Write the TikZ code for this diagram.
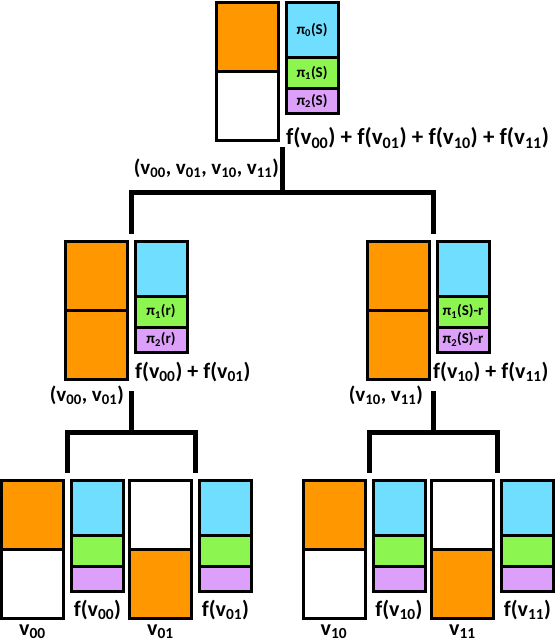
\documentclass[tikz,border=0pt]{standalone}
\usepackage{fontspec}
\setmainfont{Carlito}
\usepackage{tikz}
\usetikzlibrary{positioning}
\definecolor{hotorange}{RGB}{255,152,0}
\definecolor{piblue}{RGB}{112,222,255}
\definecolor{pigreen}{RGB}{140,245,80}
\definecolor{pipurple}{RGB}{220,160,250}

\begin{document}
\begin{tikzpicture}[x=1pt, y=-1pt,
        cell/.style={draw, line width=3pt, inner sep=0pt, outer sep=0pt, minimum width=62pt, minimum height=69pt},
        pirow/.style={draw, line width=3pt, inner sep=0pt, outer sep=0pt, minimum width=52pt, font=\bfseries\fontsize{15}{15}\selectfont},
        piA/.style={pirow, fill=piblue, minimum height=55pt},
        piB/.style={pirow, fill=pigreen, minimum height=31pt},
        piC/.style={pirow, fill=pipurple, minimum height=25pt},
        branch/.style={line width=5pt},
        lbl/.style={inner sep=0pt, font=\bfseries\fontsize{22}{22}\selectfont},
        tuple/.style={lbl, font=\bfseries\fontsize{21}{21}\selectfont}]
            \useasboundingbox (0,0) rectangle (555,643);
            % root
            \node[cell, fill=hotorange, anchor=north east] (rootHi) at (278,2.5) {};
            \node[cell, below=0pt of rootHi] (rootLo) {};
            \node[piA, anchor=north west] (rootA) at (286,2.5) {π\textsubscript{0}(S)};
            \node[piB, below=0pt of rootA] (rootB) {π\textsubscript{1}(S)};
            \node[piC, below=0pt of rootB] (rootC) {π\textsubscript{2}(S)};
            \node[lbl, font=\bfseries\fontsize{23}{23}\selectfont, anchor=west] (rootSum) at (286,138) {f(v\textsubscript{00}) + f(v\textsubscript{01}) + f(v\textsubscript{10}) + f(v\textsubscript{11})};
            \node[tuple, anchor=east] (rootTuple) at (279,168) {(v\textsubscript{00}, v\textsubscript{01}, v\textsubscript{10}, v\textsubscript{11})};
            % left child
            \node[cell, fill=hotorange, anchor=north east] (leftHi) at (127,241) {};
            \node[cell, fill=hotorange, below=0pt of leftHi] (leftLo) {};
            \node[piA, anchor=north west] (leftA) at (135,241) {};
            \node[piB, below=0pt of leftA] (leftB) {π\textsubscript{1}(r)};
            \node[piC, below=0pt of leftB] (leftC) {π\textsubscript{2}(r)};
            \node[lbl, anchor=west] (leftSum) at (135,372) {f(v\textsubscript{00}) + f(v\textsubscript{01})};
            \node[tuple, anchor=east] (leftTuple) at (124,395) {(v\textsubscript{00}, v\textsubscript{01})};
            % right child
            \node[cell, fill=hotorange, anchor=north east] (rightHi) at (429,241) {};
            \node[cell, fill=hotorange, below=0pt of rightHi] (rightLo) {};
            \node[piA, anchor=north west] (rightA) at (437,241) {};
            \node[piB, below=0pt of rightA] (rightB) {π\textsubscript{1}(S)-r};
            \node[piC, below=0pt of rightB] (rightC) {π\textsubscript{2}(S)-r};
            \node[lbl, anchor=west] (rightSum) at (433,372) {f(v\textsubscript{10}) + f(v\textsubscript{11})};
            \node[tuple, anchor=east] (rightTuple) at (423,395) {(v\textsubscript{10}, v\textsubscript{11})};
            % leaves
            \foreach \gx/\nm/\hifill/\lofill in {67.5/00/hotorange/white, 195.5/01/white/hotorange, 369/10/hotorange/white, 497.5/11/white/hotorange} {
                \node[cell, fill=\hifill, anchor=north east] (leaf\nm Hi) at (\gx-4,480.5) {};
                \node[cell, fill=\lofill, below=0pt of leaf\nm Hi] (leaf\nm Lo) {};
                \node[piA, anchor=north west] (leaf\nm A) at (\gx+4,480.5) {};
                \node[piB, below=0pt of leaf\nm A] (leaf\nm B) {};
                \node[piC, below=0pt of leaf\nm B] (leaf\nm C) {};
                \node[lbl, below=8pt of leaf\nm C] (leaf\nm Sum) {f(v\textsubscript{\nm})};
                \node[lbl, below=6pt of leaf\nm Lo] (leaf\nm Name) {v\textsubscript{\nm}};
            }
            % branches
            \coordinate (rootStem) at (282,147);
            \coordinate (rootFork) at (282,192);
            \coordinate (leftIn) at (131,234);
            \coordinate (rightIn) at (433,234);
            \draw[branch] (rootStem) -- (rootFork);
            \draw[branch] (leftIn) |- (rootFork) -| (rightIn);
            \coordinate (leftStem) at (131,391);
            \coordinate (leftFork) at (131,432);
            \coordinate (leaf00In) at (67.5,473);
            \coordinate (leaf01In) at (195.5,473);
            \draw[branch] (leftStem) -- (leftFork);
            \draw[branch] (leaf00In) |- (leftFork) -| (leaf01In);
            \coordinate (rightStem) at (433,391);
            \coordinate (rightFork) at (433,432);
            \coordinate (leaf10In) at (369,473);
            \coordinate (leaf11In) at (497.5,473);
            \draw[branch] (rightStem) -- (rightFork);
            \draw[branch] (leaf10In) |- (rightFork) -| (leaf11In);
        \end{tikzpicture}
\end{document}
